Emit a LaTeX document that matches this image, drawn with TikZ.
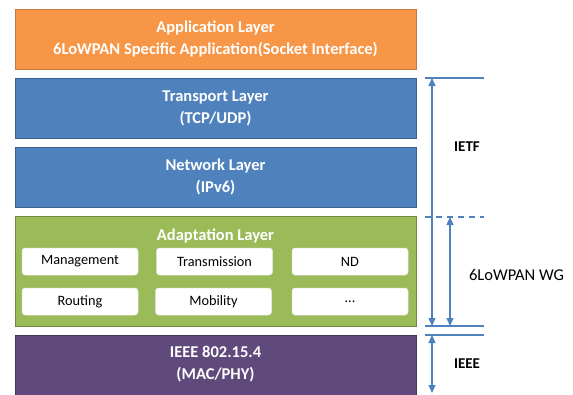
\documentclass[tikz,border=0pt]{standalone}
\usepackage{fontspec}
\setmainfont{Carlito}
\usetikzlibrary{arrows.meta}
\definecolor{appfill}{HTML}{F79646}
\definecolor{appdraw}{HTML}{C47A3E}
\definecolor{netfill}{HTML}{4F81BD}
\definecolor{netdraw}{HTML}{3A6190}
\definecolor{adpfill}{HTML}{9BBB59}
\definecolor{adpdraw}{HTML}{71893F}
\definecolor{ieefill}{HTML}{604A7B}
\definecolor{ieedraw}{HTML}{46365A}
\definecolor{arrblue}{HTML}{4F81BD}
\begin{document}
\begin{tikzpicture}[x=1pt,y=-1pt,
  layer/.style={rectangle, line width=0.9pt, minimum width=401pt, minimum height=60pt, inner sep=0pt,
    align=center, text=white, font=\bfseries\fontsize{16.5}{22}\selectfont},
  subbox/.style={rectangle, rounded corners=3pt, fill=white, draw=white!90!black, line width=0.5pt,
    minimum width=116pt, minimum height=27pt, inner sep=0pt, font=\fontsize{14.3}{16}\selectfont},
  bracket/.style={arrblue, line width=1.3pt},
  dim/.style={arrblue, line width=1.3pt, {Triangle[width=7pt,length=8pt]}-{Triangle[width=7pt,length=8pt]}},
  side/.style={font=\fontsize{16.5}{18}\selectfont}
]
\useasboundingbox (0,0) rectangle (573,394);
\node[layer, fill=appfill, draw=appdraw] (app) at (215.5,39) {Application Layer\\6LoWPAN Specific Application(Socket Interface)};
\node[layer, fill=netfill, draw=netdraw] (trans) at (215.5,108) {Transport Layer\\(TCP/UDP)};
\node[layer, fill=netfill, draw=netdraw] (net) at (215.5,177) {Network Layer\\(IPv6)};
\node[layer, fill=adpfill, draw=adpdraw, minimum height=110pt] (adp) at (215.5,271) {};
\node[text=white, font=\bfseries\fontsize{16.5}{18}\selectfont] (adpt) at (215.5,236) {Adaptation Layer};
\node[subbox] (mgmt) at (80,261.5) {Management};
\node[subbox] (trm) at (214.5,261.5) {Transmission};
\node[subbox] (nd) at (350,261.5) {ND};
\node[subbox] (rout) at (80,301.5) {Routing};
\node[subbox] (mob) at (213.5,301.5) {Mobility};
\node[subbox] (etc) at (350,301.5) {...};
\node[layer, fill=ieefill, draw=ieedraw, minimum height=62pt] (ieee) at (215.5,366) {};
\node[text=white, font=\bfseries\fontsize{16.5}{22}\selectfont, align=center] (ieeet) at (215.5,364) {IEEE 802.15.4\\(MAC/PHY)};

\coordinate (l1a) at (425,78);  \coordinate (l1b) at (484,78);
\coordinate (l2a) at (425,217); \coordinate (l2b) at (484,217);
\coordinate (l3a) at (425,326); \coordinate (l3b) at (484,326);
\coordinate (l4a) at (425,335); \coordinate (l4b) at (484,335);
\coordinate (a1t) at (432,78);  \coordinate (a1b) at (432,326);
\coordinate (a2t) at (450,217); \coordinate (a2b) at (450,326);
\coordinate (a3t) at (432,335); \coordinate (a3b) at (432,393);

\draw[bracket] (l1a) -- (l1b);
\draw[bracket, dash pattern=on 6pt off 5pt] (l2a) -- (l2b);
\draw[bracket] (l3a) -- (l3b);
\draw[bracket] (l4a) -- (l4b);
\draw[dim] (a1t) -- (a1b);
\draw[dim] (a2t) -- (a2b);
\draw[dim] (a3t) -- (a3b);

\node[side, font=\bfseries\fontsize{15}{18}\selectfont] (ietf) at (467,147) {IETF};
\node[side] (wg) at (516.5,275) {6LoWPAN WG};
\node[side, font=\bfseries\fontsize{15}{18}\selectfont] (ieeel) at (467,364) {IEEE};
\end{tikzpicture}
\end{document}
